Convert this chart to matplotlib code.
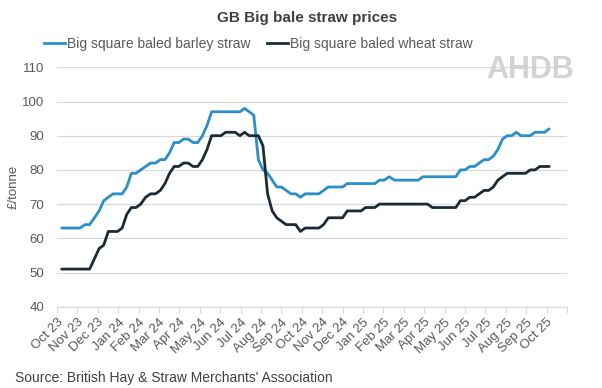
import matplotlib
matplotlib.use("Agg")
import matplotlib.pyplot as plt
from matplotlib.lines import Line2D
import pandas as pd

plt.rcParams['font.family'] = ['Liberation Sans', 'DejaVu Sans']

# ---- data (weekly, £/tonne) ----
dates = pd.date_range('2023-10-08', periods=105, freq='7D')

barley = [63, 63, 63, 63, 63, 64, 64,
          66, 68, 71, 72, 73, 73, 73, 75, 79, 79, 80, 81, 82, 82, 83, 83, 85,
          88, 88, 89, 89, 88, 88, 90, 93, 97, 97, 97, 97, 97, 97, 97, 98, 97, 96,
          83, 80, 79, 77, 75, 75, 74, 73, 73, 72, 73, 73, 73, 73, 74, 75, 75, 75,
          75, 76, 76, 76, 76, 76, 76, 76, 77, 77, 78, 77, 77, 77, 77, 77, 77,
          78, 78, 78, 78, 78, 78, 78, 78,
          80, 80, 81, 81, 82, 83, 83, 84, 86, 89, 90, 90, 91, 90, 90, 90, 91, 91, 91, 92]

wheat = [51, 51, 51, 51, 51, 51, 51,
         54, 57, 58, 62, 62, 62, 63, 67, 69, 69, 70, 72, 73, 73, 74, 76, 79,
         81, 81, 82, 82, 81, 81, 83, 86, 90, 90, 90, 91, 91, 91, 90, 91, 90, 90, 90,
         87, 73, 68, 66, 65, 64, 64, 64, 62, 63, 63, 63, 63, 64, 66, 66, 66, 66,
         68, 68, 68, 68, 69, 69, 69,
         70, 70, 70, 70, 70, 70, 70, 70, 70, 70, 70,
         69, 69, 69, 69, 69, 69,
         71, 71, 72, 72, 73, 74, 74, 75, 77, 78, 79, 79, 79, 79, 79, 80, 80, 81, 81, 81]

month_labels = ['Oct 23', 'Nov 23', 'Dec 23', 'Jan 24', 'Feb 24', 'Mar 24', 'Apr 24',
                'May 24', 'Jun 24', 'Jul 24', 'Aug 24', 'Sep 24', 'Oct 24', 'Nov 24',
                'Dec 24', 'Jan 25', 'Feb 25', 'Mar 25', 'Apr 25', 'May 25', 'Jun 25',
                'Jul 25', 'Aug 25', 'Sep 25', 'Oct 25']

series_names = ['Big square baled barley straw', 'Big square baled wheat straw']
colors = ['#2A8FC8', '#1B2B35']


def month_pos(d):
    # month-based axis (each month same width, as in a spreadsheet date axis)
    return (d.year - 2023) * 12 + d.month - 10 + (d.day - 1) / d.days_in_month


x = [month_pos(d) for d in dates]

W, H = 602, 388
fig = plt.figure(figsize=(W / 100, H / 100), dpi=100)
left, right, top, bottom = 57, 567, 67.3, 306.7
ax = fig.add_axes([left / W, 1 - bottom / H, (right - left) / W, (bottom - top) / H])

for vals, c in zip([barley, wheat], colors):
    ax.plot(x, vals, color=c, lw=2.0, solid_joinstyle='round', solid_capstyle='round', zorder=3)

ax.set_xlim(0, len(month_labels))
ax.set_ylim(40, 110)
ax.set_yticks(range(40, 111, 10))
ax.grid(axis='y', color='#D9D9D9', lw=0.9, zorder=0)
ax.set_axisbelow(True)
for s in ['left', 'right', 'top']:
    ax.spines[s].set_visible(False)
ax.spines['bottom'].set_color('#D9D9D9')
ax.spines['bottom'].set_linewidth(0.9)

ax.tick_params(axis='y', length=0, labelsize=9.5, labelcolor='#595959', pad=9)
ax.set_xticks(range(len(month_labels) + 1))
ax.set_xticklabels(month_labels + [''], rotation=45, ha='right', va='top',
                   rotation_mode='anchor', fontsize=9.5, color='#595959')
ax.tick_params(axis='x', length=4, width=0.9, color='#D9D9D9', pad=3)

fig.text(307 / W, 1 - 18 / H, 'GB Big bale straw prices', ha='center', va='center',
         fontsize=11, fontweight='bold', color='#404040')

handles = [Line2D([0], [0], color=c, lw=2.0) for c in colors]
fig.legend(handles, series_names, loc='center', bbox_to_anchor=(258 / W, 1 - 44 / H),
           ncol=2, frameon=False, fontsize=10, handlelength=1.5, handletextpad=0.15,
           columnspacing=1.2, labelcolor='#595959', borderaxespad=0, borderpad=0)

fig.text(14 / W, 1 - 187 / H, '£/tonne', rotation=90, ha='center', va='center',
         fontsize=9.5, color='#595959')

fig.text(530 / W, 1 - 70 / H, 'AHDB', ha='center', va='center', fontsize=22,
         fontweight='bold', color='#D3D3D3')

fig.text(15 / W, 1 - 378 / H, "Source: British Hay & Straw Merchants' Association",
         ha='left', va='center', fontsize=10, color='#404040')

fig.savefig('out.png', dpi=100)
